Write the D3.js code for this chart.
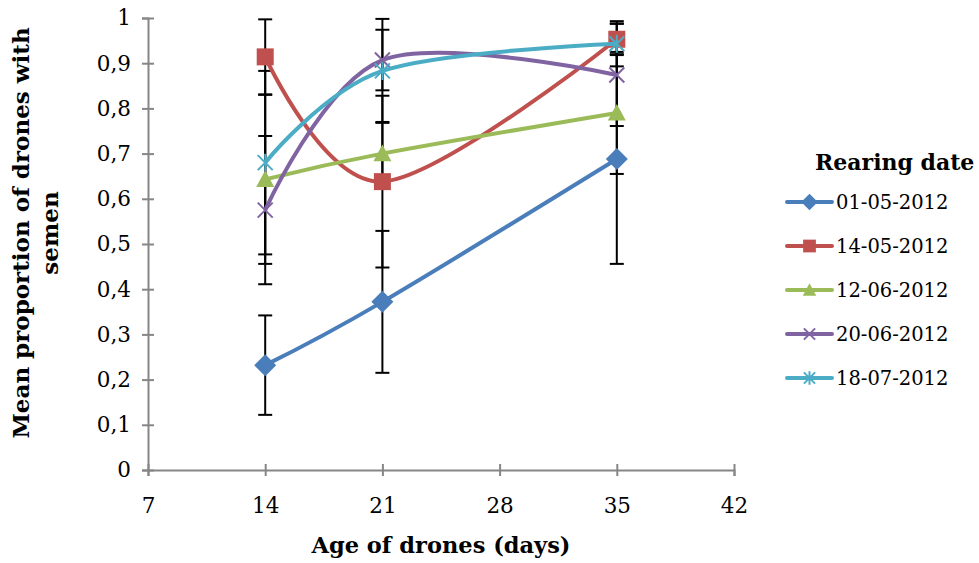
<!DOCTYPE html>
<html>
<head>
<meta charset="utf-8">
<script src="https://cdn.jsdelivr.net/npm/d3@7"></script>
<style>
  html, body { margin: 0; padding: 0; background: #fff; }
  svg { display: block; }
  text { font-family: "DejaVu Serif", "Liberation Serif", serif; fill: #000; }
</style>
</head>
<body>
<svg id="chart" width="979" height="563"></svg>
<script>
// ---- data ----
const days = [14, 21, 35];
const seriesNames = ["01-05-2012", "14-05-2012", "12-06-2012", "20-06-2012", "18-07-2012"];
const values0 = [0.232, 0.372, 0.688];
const values1 = [0.914, 0.638, 0.953];
const values2 = [0.643, 0.700, 0.790];
const values3 = [0.575, 0.907, 0.874];
const values4 = [0.680, 0.883, 0.943];
const errors0 = [0.110, 0.157, 0.232];
const errors1 = [0.083, 0.190, 0.035];
const errors2 = [0.187, 0.070, 0.135];
const errors3 = [0.164, 0.067, 0.113];
const errors4 = [0.203, 0.115, 0.050];
const xTicks = [7, 14, 21, 28, 35, 42];
const yTicks = [0, 0.1, 0.2, 0.3, 0.4, 0.5, 0.6, 0.7, 0.8, 0.9, 1];
const yTickLabels = ["0", "0,1", "0,2", "0,3", "0,4", "0,5", "0,6", "0,7", "0,8", "0,9", "1"];
const xTitle = "Age of drones (days)";
const yTitleLines = ["Mean proportion of drones with", "semen"];
const legendTitle = "Rearing date";

const colors = ["#4A7EBB", "#C0504D", "#9BBB59", "#8064A2", "#4BACC6"];
const markers = ["diamond", "square", "triangle", "x", "star"];
const allValues = [values0, values1, values2, values3, values4];
const allErrors = [errors0, errors1, errors2, errors3, errors4];
const series = seriesNames.map((name, i) => ({
  name, color: colors[i], marker: markers[i],
  points: days.map((d, j) => ({ x: d, y: allValues[i][j], e: allErrors[i][j] }))
}));

// ---- layout ----
const svg = d3.select("#chart");
const x = d3.scaleLinear().domain([7, 42]).range([148, 734]);
const y = d3.scaleLinear().domain([0, 1]).range([470, 18]);
const axisColor = "#868686";

// y axis
const yAxis = svg.append("g").attr("transform", `translate(${x(7)},0)`)
  .call(d3.axisLeft(y).tickValues(yTicks).tickSize(6).tickPadding(11)
    .tickFormat((d, i) => yTickLabels[i]));
yAxis.select(".domain").attr("stroke", axisColor).attr("stroke-width", 2);
yAxis.selectAll(".tick line").attr("stroke", axisColor).attr("stroke-width", 2).attr("x1", 6);
yAxis.selectAll(".tick text").attr("font-size", 21.5).attr("font-family", "DejaVu Serif").attr("fill", "#000");

// x axis
const xAxis = svg.append("g").attr("transform", `translate(0,${y(0)})`)
  .call(d3.axisBottom(x).tickValues(xTicks).tickSize(6).tickPadding(22));
xAxis.select(".domain").attr("stroke", axisColor).attr("stroke-width", 2);
xAxis.selectAll(".tick line").attr("stroke", axisColor).attr("stroke-width", 2).attr("y1", -6);
xAxis.selectAll(".tick text").attr("font-size", 21.5).attr("font-family", "DejaVu Serif").attr("fill", "#000");

// axis titles
svg.append("text").attr("x", 441).attr("y", 553).attr("text-anchor", "middle")
  .attr("font-size", 22.5).attr("font-weight", "bold").text(xTitle);
yTitleLines.forEach((t, i) => {
  svg.append("text").attr("transform", `translate(${29 + i * 29},233) rotate(-90)`)
    .attr("text-anchor", "middle").attr("font-size", 23).attr("font-weight", "bold").text(t);
});

// marker path generator
function markerPath(type, s) {
  const h = s / 2;
  switch (type) {
    case "diamond": return `M0,${-h}L${h},0L0,${h}L${-h},0Z`;
    case "square": return `M${-h},${-h}H${h}V${h}H${-h}Z`;
    case "triangle": return `M0,${-h}L${h},${h * 0.85}L${-h},${h * 0.85}Z`;
    case "x": return `M${-h},${-h}L${h},${h}M${-h},${h}L${h},${-h}`;
    case "star": return `M${-h},${-h}L${h},${h}M${-h},${h}L${h},${-h}M0,${-h * 1.2}V${h * 1.2}`;
  }
}
const markerSize = { diamond: 22, square: 17, triangle: 18, x: 15, star: 15 };
function drawMarker(g, type, color, cx, cy, scale) {
  const p = g.append("path").attr("transform", `translate(${cx},${cy})`)
    .attr("d", markerPath(type, markerSize[type] * scale));
  if (type === "x" || type === "star") {
    p.attr("fill", "none").attr("stroke", color).attr("stroke-width", 2);
  } else {
    p.attr("fill", color).attr("stroke", "none");
  }
}

// error bars
const eb = svg.append("g");
series.forEach(s => {
  s.points.forEach(p => {
    const cx = x(p.x);
    eb.append("line").attr("x1", cx).attr("x2", cx).attr("y1", y(p.y + p.e)).attr("y2", y(p.y - p.e))
      .attr("stroke", "#000").attr("stroke-width", 2);
    [p.y + p.e, p.y - p.e].forEach(v => {
      eb.append("line").attr("x1", cx - 7).attr("x2", cx + 7).attr("y1", y(v)).attr("y2", y(v))
        .attr("stroke", "#000").attr("stroke-width", 2);
    });
  });
});

// lines + markers
const line = d3.line().x(d => x(d.x)).y(d => y(d.y)).curve(d3.curveCardinal.tension(0));
series.forEach(s => {
  const g = svg.append("g");
  g.append("path").datum(s.points).attr("d", line).attr("fill", "none")
    .attr("stroke", s.color).attr("stroke-width", 4).attr("stroke-linejoin", "round");
  s.points.forEach(p => drawMarker(g, s.marker, s.color, x(p.x), y(p.y), 1));
});

// legend
const lg = svg.append("g");
lg.append("text").attr("x", 815).attr("y", 170).attr("font-size", 22).attr("font-weight", "bold").text(legendTitle);
series.forEach((s, i) => {
  const cy = 202 + i * 44;
  lg.append("line").attr("x1", 787).attr("x2", 832).attr("y1", cy).attr("y2", cy)
    .attr("stroke", s.color).attr("stroke-width", 4).attr("stroke-linecap", "round");
  drawMarker(lg, s.marker, s.color, 809.5, cy, 0.75);
  lg.append("text").attr("x", 836).attr("y", cy + 7).attr("font-size", 19.5).text(s.name);
});
</script>
</body>
</html>
